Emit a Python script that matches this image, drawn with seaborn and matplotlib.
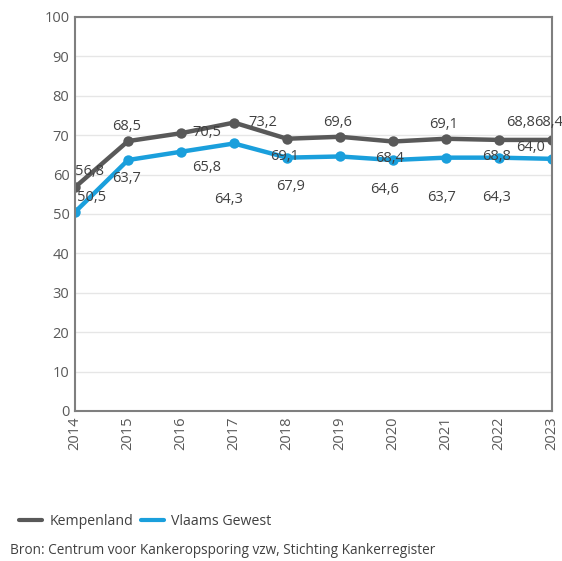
import pandas as pd
import matplotlib.pyplot as plt
from matplotlib.lines import Line2D
import seaborn as sns

# Data
years = [2014, 2015, 2016, 2017, 2018, 2019, 2020, 2021, 2022, 2023]
kempenland = [56.8, 68.5, 70.5, 73.2, 69.1, 69.6, 68.4, 69.1, 68.8, 68.8]
vlaams_gewest = [50.5, 63.7, 65.8, 67.9, 64.3, 64.6, 63.7, 64.3, 64.3, 64.0]

series_names = ["Kempenland", "Vlaams Gewest"]
colors = {"Kempenland": "#595959", "Vlaams Gewest": "#1a9fdc"}

# Data labels as they are placed in the original chart (text, year, height)
labels = [
    ("56,8", 2014.28, 60.7), ("50,5", 2014.32, 54.3),
    ("68,5", 2014.98, 72.3), ("63,7", 2014.98, 59.1),
    ("70,5", 2016.49, 70.6), ("65,8", 2016.49, 61.7),
    ("73,2", 2017.55, 73.1), ("64,3", 2016.89, 53.6),
    ("69,1", 2017.96, 64.5), ("67,9", 2018.06, 56.9),
    ("69,6", 2018.96, 73.1), ("68,4", 2019.94, 64.0),
    ("64,6", 2019.85, 56.1), ("69,1", 2020.96, 72.6),
    ("63,7", 2020.92, 54.3), ("68,8", 2021.96, 64.5),
    ("64,3", 2021.96, 54.3), ("68,8", 2022.40, 73.1),
    ("68,4", 2022.93, 73.1), ("64,0", 2022.60, 67.0),
]

df = pd.DataFrame({
    "jaar": years * 2,
    "waarde": kempenland + vlaams_gewest,
    "reeks": [series_names[0]] * len(years) + [series_names[1]] * len(years),
})

sns.set_style("white")
plt.rcParams["font.family"] = ["Open Sans", "DejaVu Sans"]

fig = plt.figure(figsize=(5.62, 5.61), dpi=100)
ax = fig.add_axes([0.1335, 0.2674, 0.8485, 0.7023])

sns.lineplot(data=df, x="jaar", y="waarde", hue="reeks", palette=colors,
             marker="o", markersize=7.5, markeredgewidth=0, linewidth=3.2,
             legend=False, ax=ax)

for text, x, y in labels:
    ax.text(x, y, text, ha="center", va="center", fontsize=10.5, color="#404040")

ax.set_xlim(2014, 2023)
ax.set_ylim(0, 100)
ax.set_xticks(years)
ax.set_xticklabels([str(y) for y in years], rotation=90)
ax.set_yticks(range(0, 101, 10))
ax.yaxis.grid(True, color="#e6e6e6", linewidth=1)
ax.set_axisbelow(True)
ax.set_xlabel("")
ax.set_ylabel("")
ax.tick_params(axis="both", length=0, labelsize=10.5, labelcolor="#595959", pad=4)
for side in ["left", "right", "top", "bottom"]:
    ax.spines[side].set_color("#7f7f7f")
    ax.spines[side].set_linewidth(1.5)

handles = [Line2D([0], [0], color=colors[n], linewidth=3) for n in series_names]
fig.legend(handles, series_names, loc="center left", bbox_to_anchor=(0.012, 0.071),
           frameon=False, ncol=2, fontsize=10.2, handlelength=1.6, handletextpad=0.5,
           columnspacing=0.6, labelcolor="#404040")

fig.text(0.018, 0.018, "Bron: Centrum voor Kankeropsporing vzw, Stichting Kankerregister",
         fontsize=9.8, color="#404040", ha="left", va="center")

fig.savefig("out.png", dpi=100)
